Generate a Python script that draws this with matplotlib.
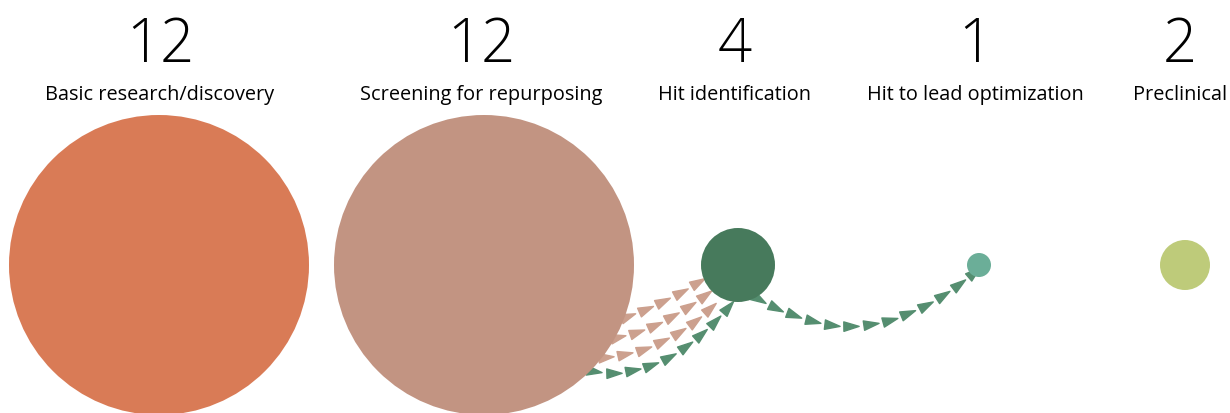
import numpy as np
import matplotlib.pyplot as plt
from matplotlib.patches import Circle
from matplotlib.markers import MarkerStyle
from matplotlib.path import Path
from matplotlib.transforms import Affine2D

# data
stages = ["Basic research/discovery", "Screening for repurposing", "Hit identification",
          "Hit to lead optimization", "Preclinical"]
counts = [12, 12, 4, 1, 2]

# layout (pixels)
x_pos = [159, 484, 738, 979, 1185]
label_x = [160, 481, 735, 975, 1180]
radius = [150, 150, 37, 12, 25]
y_mid = 266
colors = ["#D97B56", "#C29482", "#477A5C", "#6BAE98", "#BECB7A"]

# flow curves: start, control, end, colour
flows = [
    ((620, 320), (662, 305), (710, 276), "#CCA08E"),
    ((610, 340), (662, 330), (716, 288), "#CCA08E"),
    ((598, 359), (664, 356), (722, 298), "#CCA08E"),
    ((586, 371), (665, 388), (738, 296), "#558E70"),
    ((752, 295), (864, 368), (975, 272), "#558E70"),
]

plt.rcParams['font.family'] = ['Open Sans', 'DejaVu Sans']

fig = plt.figure(figsize=(12.3, 4.14), dpi=100)
ax = fig.add_axes([0, 0, 1, 1])
ax.set_xlim(0, 1230)
ax.set_ylim(414, 0)
ax.axis('off')

for i in range(len(stages)):
    ax.add_patch(Circle((x_pos[i], y_mid), radius[i], color=colors[i], zorder=3, lw=0))
    ax.text(label_x[i], 62, str(counts[i]), ha='center', va='baseline',
            fontsize=43, fontweight='light', color='black')
    ax.text(label_x[i], 100, stages[i], ha='center', va='baseline',
            fontsize=14.3, color='black')

tri = Path([(-1, -0.62), (1, 0), (-1, 0.62), (-1, -0.62)],
           [Path.MOVETO, Path.LINETO, Path.LINETO, Path.CLOSEPOLY])

for p0, c, p2, col in flows:
    p0, c, p2 = np.array(p0), np.array(c), np.array(p2)
    t = np.linspace(0, 1, 400)[:, None]
    pts = (1 - t) ** 2 * p0 + 2 * (1 - t) * t * c + t ** 2 * p2
    seg = np.hypot(*np.diff(pts, axis=0).T)
    s = np.concatenate([[0], np.cumsum(seg)])
    for d in np.arange(8, s[-1], 19.5):
        k = np.searchsorted(s, d)
        k = min(max(k, 1), len(pts) - 1)
        dx, dy = pts[k] - pts[k - 1]
        ang = np.degrees(np.arctan2(-dy, dx))
        m = MarkerStyle(tri, transform=Affine2D().rotate_deg(ang))
        ax.plot(pts[k][0], pts[k][1], marker=m, markersize=11, color=col,
                lw=0, zorder=2)

fig.savefig("out.png", dpi=100)
